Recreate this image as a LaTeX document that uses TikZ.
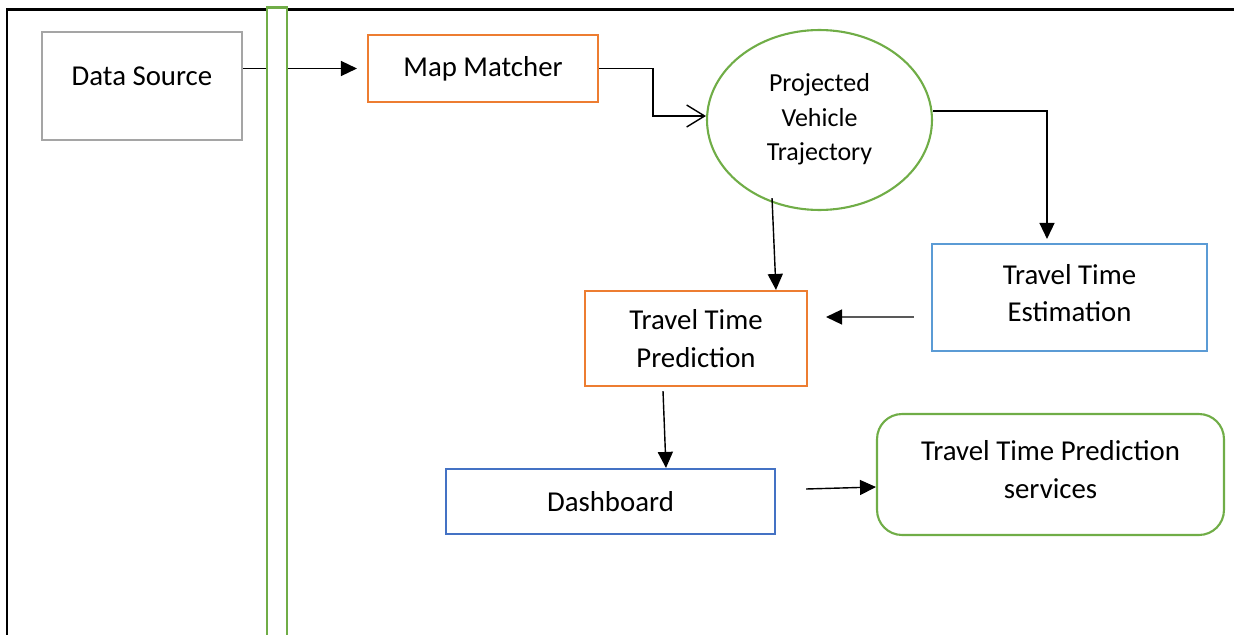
\documentclass[tikz,border=0pt]{standalone}
\usepackage{fontspec}
\setmainfont{Carlito}
\usepackage{xcolor}
\usetikzlibrary{shapes.geometric, arrows.meta}

\definecolor{srcgray}{HTML}{A5A5A5}
\definecolor{mmorange}{HTML}{ED7D31}
\definecolor{leafgreen}{HTML}{70AD47}
\definecolor{skyblue}{HTML}{5B9BD5}
\definecolor{deepblue}{HTML}{4472C4}

\begin{document}
\begin{tikzpicture}[x=0.02cm, y=-0.02cm,
    box/.style={draw, line width=1.2pt, align=center, inner sep=0pt,
        font=\fontsize{16.4}{21.6}\selectfont},
    plain/.style={},
    lifted/.style={text depth=0.18cm},
    conn/.style={line width=0.8pt, -{Triangle[length=0.32cm, width=0.3cm]}}]
    \useasboundingbox (0,0) rectangle (1234,635);

    % Frame
    \draw[line width=1.7pt] (7,640) -- (7,9.5) -- (1240,9.5);

    % Boxes
    \node[box, draw=srcgray, minimum width=4cm, minimum height=2.16cm, text depth=0.4cm]
        (ds) at (142,86) {Data Source};
    \foreach \n/\x/\y/\w/\h/\c/\s/\t in {mm/483/68.5/4.6cm/1.34cm/mmorange/plain/{Map Matcher},
            ttp/696/338.5/4.44cm/1.9cm/mmorange/plain/{Travel Time\\Prediction},
            tte/1069.5/297.5/5.5cm/2.14cm/skyblue/lifted/{Travel Time\\Estimation},
            db/610.5/501.5/6.58cm/1.3cm/deepblue/plain/{Dashboard}} {
        \node[box, draw=\c, minimum width=\w, minimum height=\h, \s] (\n) at (\x,\y) {\t};
    }
    \node[box, draw=leafgreen, rounded corners=0.5cm, minimum width=6.94cm, minimum height=2.42cm,
        text depth=0.2cm] (tts) at (1050.5,474.5) {Travel Time Prediction\\services};

    % Trajectory ellipse
    \node[ellipse, draw=leafgreen, line width=1.2pt, inner sep=0pt, align=center,
        minimum width=4.5cm, minimum height=3.6cm, font=\fontsize{14.8}{19.9}\selectfont,
        text depth=0.12cm] (pvt) at (819.5,120) {Projected\\Vehicle\\Trajectory};

    % Connectors
    \draw[conn] (ds.east |- mm.west) -- ([xshift=-0.2cm]mm.west);
    \draw[line width=0.8pt, -{Straight Barb[length=0.36cm, width=0.44cm]}]
        (mm.east) -- ++(54,0) |- ([yshift=0.08cm]pvt.west);
    \draw[conn] ([yshift=0.18cm]pvt.east) -| ([xshift=-0.45cm, yshift=0.08cm]tte.north);
    \draw[conn] ([xshift=-0.95cm, yshift=0.26cm]pvt.south) -- ([xshift=1.6cm]ttp.north);
    \draw[conn] ([xshift=-0.34cm, yshift=-0.39cm]tte.west) -- ([xshift=0.36cm, yshift=0.43cm]ttp.east);
    \draw[conn] ([xshift=-0.66cm, yshift=-0.08cm]ttp.south) -- ([xshift=1.11cm]db.north);
    \draw[conn] ([xshift=0.6cm, yshift=0.25cm]db.east) -- ([yshift=-0.25cm]tts.west);

    % Green bar
    \draw[leafgreen, line width=1.2pt, fill=white] (266.7,7.5) rectangle (287,645);
\end{tikzpicture}
\end{document}
